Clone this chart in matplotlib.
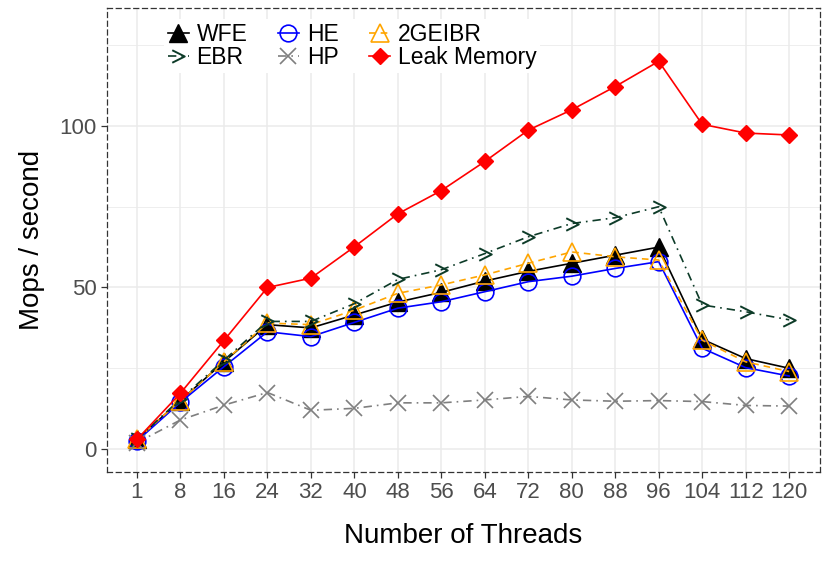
import matplotlib
matplotlib.use("Agg")
import matplotlib.pyplot as plt
import numpy as np
from matplotlib.path import Path

threads = ["1", "8", "16", "24", "32", "40", "48", "56", "64", "72", "80", "88", "96", "104", "112", "120"]

wfe = [3, 15, 27, 38.5, 37.5, 41.5, 45.5, 48.5, 52, 55, 57.5, 60, 62.5, 34, 28, 25]
he = [2.5, 14.5, 25.5, 36.3, 34.8, 39.2, 43.6, 45.6, 48.7, 51.8, 53.5, 55.9, 58, 31.2, 25.2, 22.6]
geibr = [3, 15, 27, 39, 38.5, 43, 48.2, 50.8, 53.9, 57.5, 61, 59.5, 58.5, 33.7, 27, 24]
ebr = [3, 15.5, 27.5, 39.5, 39.5, 45, 52.5, 55.5, 60.5, 65.7, 69.8, 71.6, 75, 44.6, 42.5, 40]
hp = [2, 9, 13.6, 17.5, 12, 12.6, 14.3, 14.3, 15.2, 16.3, 15.2, 14.8, 15, 14.7, 13.5, 13.3]
leak = [3, 17.3, 33.6, 50, 52.9, 62.6, 72.8, 80, 89, 98.7, 105, 112.2, 120, 100.5, 97.8, 97.2]

plt.rcParams['font.family'] = ['Liberation Sans', 'DejaVu Sans']

# open chevron marker like ggplot's ">" character
chevron = Path([(-1, 1), (1, 0), (-1, -1)], [Path.MOVETO, Path.LINETO, Path.LINETO])

fig = plt.figure(figsize=(8.22, 5.65), dpi=100)
ax = fig.add_axes([107 / 822, 93 / 565, 713 / 822, 464 / 565])

x = np.arange(len(threads))
lw = 1.2

l_wfe, = ax.plot(x, wfe, color='black', lw=lw, ls='-', marker='^', ms=13,
                 mfc='black', mec='black', label='WFE')
l_he, = ax.plot(x, he, color='blue', lw=lw, ls='-', marker='o', ms=12,
                mfc='none', mec='blue', mew=1.2, label='HE')
l_geibr, = ax.plot(x, geibr, color='#FFA500', lw=lw, ls=(0, (4, 3)), marker='^', ms=13,
                   mfc='none', mec='#FFA500', mew=1.2, label='2GEIBR')
l_ebr, = ax.plot(x, ebr, color='#0D3B28', lw=lw, ls=(0, (5, 3, 1, 3)), marker=chevron, ms=9,
                 mfc='none', mec='#0D3B28', mew=1.4, label='EBR')
l_hp, = ax.plot(x, hp, color='#7F7F7F', lw=lw, ls=(0, (5, 3, 1, 3)), marker='x', ms=12,
                mec='#7F7F7F', mew=1.2, label='HP')
l_leak, = ax.plot(x, leak, color='red', lw=lw, ls='-', marker='D', ms=8.5,
                  mfc='red', mec='red', label='Leak Memory')

ax.set_xlim(-0.69, 15.71)
ax.set_ylim(-7.1, 136.5)
ax.set_xticks(x)
ax.set_xticklabels(threads)
ax.set_yticks([0, 50, 100])
ax.set_yticks([25, 75, 125], minor=True)

ax.grid(which='major', color='#EBEBEB', lw=1.1)
ax.grid(which='minor', axis='y', color='#EBEBEB', lw=0.6)
ax.set_axisbelow(True)

for s in ax.spines.values():
    s.set_linestyle((0, (4, 3)))
    s.set_color('#333333')
    s.set_linewidth(0.9)

ax.tick_params(axis='both', which='major', labelsize=16, labelcolor='#4D4D4D',
               color='#333333', length=4, width=0.9)
ax.tick_params(axis='y', which='minor', length=0)

ax.set_xlabel('Number of Threads', fontsize=20, labelpad=14)
ax.set_ylabel('Mops / second', fontsize=20, labelpad=10)

handles = [l_wfe, l_ebr, l_he, l_hp, l_geibr, l_leak]
leg = ax.legend(handles=handles, ncol=3, loc='upper left', bbox_to_anchor=(0.0645, 1.0),
                fontsize=16.5, frameon=True, framealpha=1, edgecolor='white',
                fancybox=False, handlelength=0.9, handletextpad=0.35,
                columnspacing=1.34, labelspacing=0.02, borderpad=0.15)
leg.get_frame().set_linewidth(0)

fig.savefig('out.png', dpi=100)
